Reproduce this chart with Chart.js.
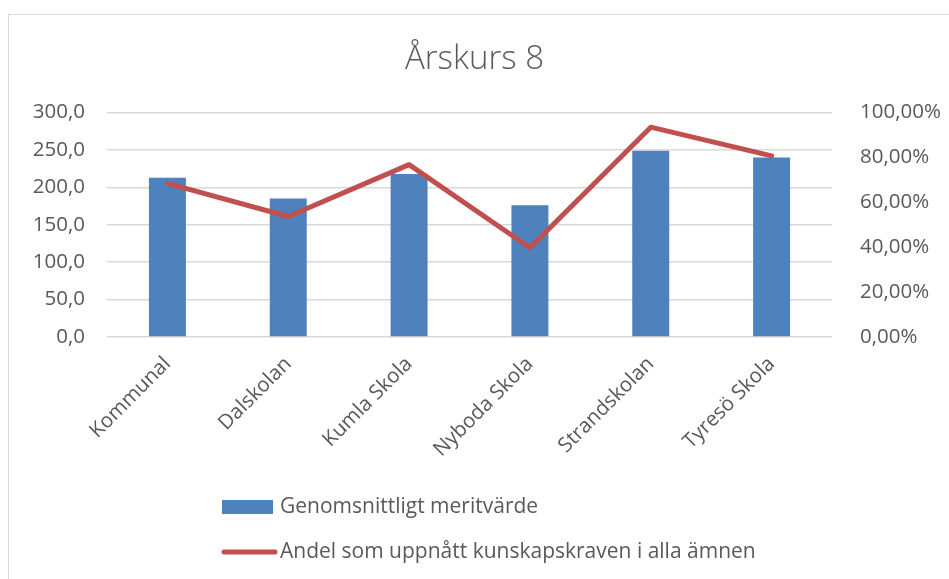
<!DOCTYPE html>
<html>
<head>
<meta charset="utf-8">
<script src="https://cdn.jsdelivr.net/npm/chart.js@4"></script>
<style>
  html, body { margin: 0; padding: 0; background: #ffffff; overflow: hidden; }
  #wrap { position: relative; width: 949px; height: 579px; }
  #frame { position: absolute; left: 8px; top: 14px; width: 1000px; height: 1000px;
           border-left: 1.5px solid #d9d9d9; border-top: 1.5px solid #d9d9d9; box-sizing: border-box; }
  canvas { position: absolute; left: 0; top: 0; }
</style>
</head>
<body>
<div id="wrap">
  <div id="frame"></div>
  <canvas id="c" width="949" height="579"></canvas>
</div>
<script>
const chartTitle = 'Årskurs 8';
const categories = ['Kommunal', 'Dalskolan', 'Kumla Skola', 'Nyboda Skola', 'Strandskolan', 'Tyresö Skola'];
const barLabel = 'Genomsnittligt meritvärde';
const meritValues = [213, 185, 218, 176, 249, 240];
const lineLabel = 'Andel som uppnått kunskapskraven i alla ämnen';
const shareValues = [0.685, 0.537, 0.768, 0.398, 0.935, 0.807];
const leftTicks = [0, 50, 100, 150, 200, 250, 300];
const rightTicks = [0, 0.2, 0.4, 0.6, 0.8, 1.0];

const FONT = "'Open Sans', 'Liberation Sans', sans-serif";
const TEXT = '#595959';
const BLUE = '#4f81bd';
const RED = '#c0504d';

const legendPlugin = {
  id: 'stackedLegend',
  afterDraw(chart) {
    const ctx = chart.ctx;
    const ds = chart.data.datasets;
    const x0 = 222, y1 = 507, y2 = 552, sw = 51;
    ctx.save();
    ctx.font = "21px " + FONT;
    ctx.fillStyle = TEXT;
    ctx.textBaseline = 'middle';
    ctx.textAlign = 'left';
    // bar item
    ctx.fillStyle = ds[0].backgroundColor;
    ctx.fillRect(x0, y1 - 7, sw, 14);
    ctx.fillStyle = TEXT;
    ctx.fillText(ds[0].label, x0 + sw + 7, y1);
    // line item
    ctx.strokeStyle = ds[1].borderColor;
    ctx.lineWidth = 5;
    ctx.lineCap = 'round';
    ctx.beginPath();
    ctx.moveTo(x0 + 2, y2);
    ctx.lineTo(x0 + sw + 2, y2);
    ctx.stroke();
    ctx.fillText(ds[1].label, x0 + sw + 7, y2);
    ctx.restore();
  }
};

new Chart(document.getElementById('c'), {
  data: {
    labels: categories,
    datasets: [
      {
        type: 'bar',
        label: barLabel,
        data: meritValues,
        backgroundColor: BLUE,
        borderWidth: 0,
        yAxisID: 'y',
        order: 1,
        categoryPercentage: 1.0,
        barPercentage: 0.306
      },
      {
        type: 'line',
        label: lineLabel,
        data: shareValues,
        borderColor: RED,
        backgroundColor: RED,
        borderWidth: 5,
        borderCapStyle: 'round',
        borderJoinStyle: 'round',
        pointRadius: 0,
        tension: 0,
        yAxisID: 'y1',
        order: 0
      }
    ]
  },
  options: {
    responsive: false,
    animation: false,
    devicePixelRatio: 1,
    layout: { padding: { left: 0, right: 0, top: 0, bottom: 112 } },
    plugins: {
      legend: { display: false },
      tooltip: { enabled: false },
      title: {
        display: true,
        text: chartTitle,
        color: TEXT,
        font: { family: FONT, size: 33, weight: '300' },
        padding: { top: 40, bottom: 33 }
      }
    },
    scales: {
      x: {
        grid: { display: false },
        border: { display: false },
        ticks: {
          color: TEXT,
          font: { family: FONT, size: 20.5 },
          maxRotation: 45,
          minRotation: 45,
          autoSkip: false,
          padding: 7
        },
        afterFit: (s) => { s.height = 130; }
      },
      y: {
        position: 'left',
        min: 0,
        max: 300,
        afterBuildTicks: (s) => { s.ticks = leftTicks.map(v => ({ value: v })); },
        grid: { color: '#d9d9d9', lineWidth: 1.5, drawTicks: false },
        border: { display: false },
        ticks: {
          color: TEXT,
          font: { family: FONT, size: 20.5 },
          padding: 22,
          callback: (v) => Number(v).toFixed(1).replace('.', ',')
        },
        afterFit: (s) => { s.width = 107; }
      },
      y1: {
        position: 'right',
        min: 0,
        max: 1,
        afterBuildTicks: (s) => { s.ticks = rightTicks.map(v => ({ value: v })); },
        grid: { display: false, drawTicks: false },
        border: { display: false },
        ticks: {
          color: TEXT,
          font: { family: FONT, size: 20.5 },
          padding: 28,
          callback: (v) => (Number(v) * 100).toFixed(2).replace('.', ',') + '%'
        },
        afterFit: (s) => { s.width = 117; }
      }
    }
  },
  plugins: [legendPlugin]
});
</script>
</body>
</html>
